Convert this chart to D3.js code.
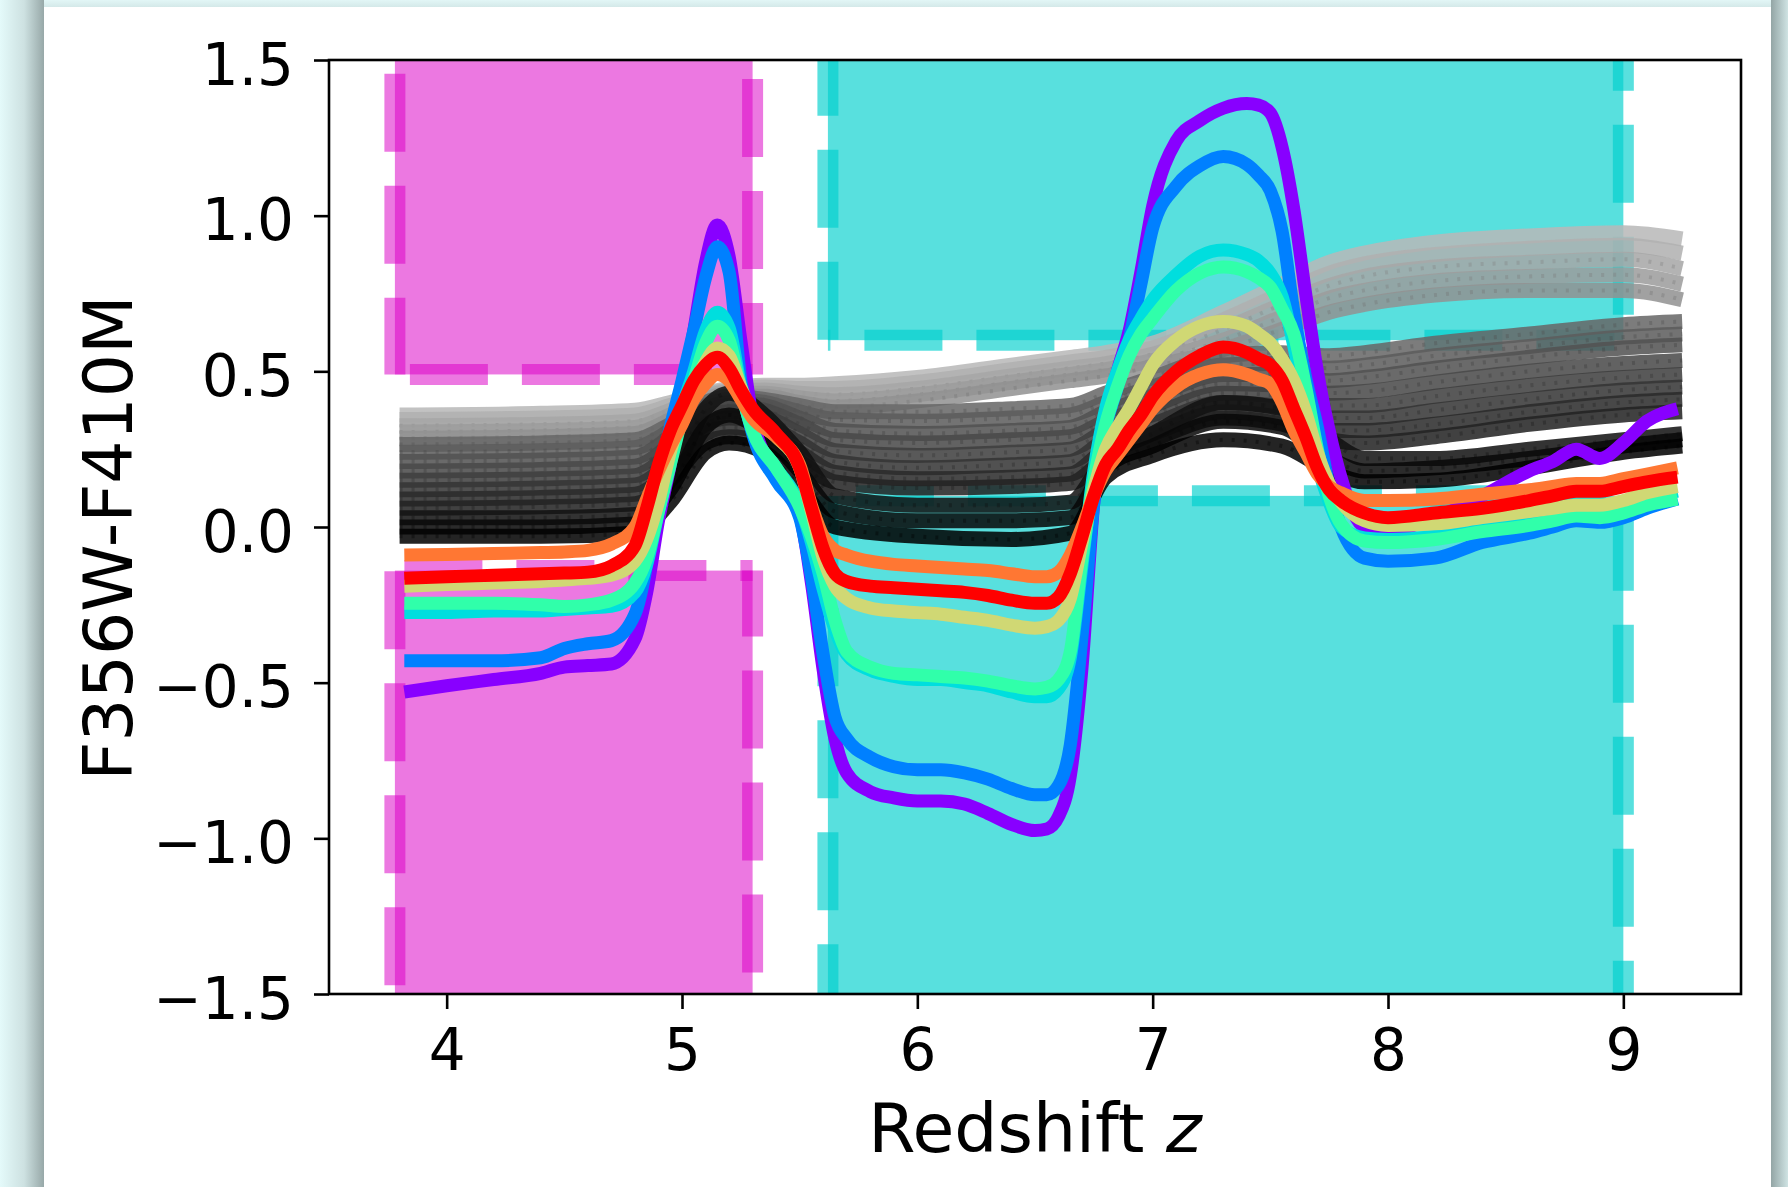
<!DOCTYPE html>
<html><head><meta charset="utf-8">
<script src="https://cdn.jsdelivr.net/npm/d3@7"></script>
<style>body{margin:0;background:#e3f9f9;} svg{display:block;} text{font-family:"DejaVu Sans";}</style>
</head><body>
<svg id="c" width="1788" height="1187"></svg>
<script>
// ---------------- data ----------------
const xTicks = [4, 5, 6, 7, 8, 9];
const xTickLabels = ["4", "5", "6", "7", "8", "9"];
const yTicks = [-1.5, -1.0, -0.5, 0.0, 0.5, 1.0, 1.5];
const yTickLabels = ["\u22121.5", "\u22121.0", "\u22120.5", "0.0", "0.5", "1.0", "1.5"];

// shaded selection regions [x0,x1] and [y0,y1]
const magentaX = [3.78, 5.30];
const magentaTopY = [0.49, 1.6];
const magentaBotY = [-1.6, -0.14];
const cyanX = [5.62, 9.0];
const cyanTopY = [0.6, 1.6];
const cyanBotY = [-1.6, 0.1];

// colored model tracks
const zColor = [3.82,4.0,4.2,4.4,4.5,4.6,4.7,4.8,4.85,4.9,
  4.95,5.0,5.05,5.1,5.15,5.2,5.25,5.3,5.4,5.5,
  5.55,5.6,5.65,5.7,5.8,5.9,6.0,6.1,6.2,6.3,
  6.4,6.5,6.55,6.6,6.65,6.7,6.75,6.8,6.85,6.9,
  6.95,7.0,7.1,7.2,7.3,7.4,7.45,7.5,7.55,7.6,
  7.65,7.7,7.75,7.8,7.9,8.0,8.2,8.4,8.6,8.7,
  8.8,8.9,9.0,9.1,9.23];
const purple = [-0.53,-0.51,-0.49,-0.47,-0.45,-0.445,-0.44,-0.36,-0.21,0.02,
  0.2,0.42,0.63,0.85,0.97,0.87,0.6,0.35,0.17,0.04,
  -0.18,-0.46,-0.68,-0.79,-0.85,-0.87,-0.88,-0.88,-0.89,-0.92,
  -0.955,-0.975,-0.97,-0.93,-0.8,-0.45,0.08,0.34,0.5,0.63,
  0.82,1.03,1.24,1.305,1.345,1.36,1.355,1.33,1.22,1.02,
  0.75,0.5,0.31,0.16,0.0,-0.01,0.03,0.1,0.18,0.21,
  0.25,0.22,0.27,0.34,0.38];
const blue = [-0.43,-0.43,-0.43,-0.42,-0.39,-0.375,-0.365,-0.28,-0.12,0.15,
  0.32,0.47,0.63,0.8,0.9,0.82,0.47,0.3,0.15,0.03,
  -0.16,-0.41,-0.61,-0.68,-0.74,-0.77,-0.78,-0.78,-0.79,-0.81,
  -0.84,-0.86,-0.86,-0.83,-0.7,-0.35,0.08,0.32,0.45,0.6,
  0.78,0.96,1.095,1.16,1.19,1.165,1.13,1.08,0.95,0.69,
  0.48,0.32,0.13,0.0,-0.1,-0.11,-0.1,-0.05,-0.02,0.0,
  0.02,0.015,0.03,0.06,0.09];
const cyan = [-0.275,-0.275,-0.27,-0.27,-0.265,-0.26,-0.255,-0.21,-0.12,0.05,
  0.22,0.38,0.5,0.63,0.69,0.64,0.45,0.31,0.19,0.07,
  -0.05,-0.2,-0.33,-0.41,-0.46,-0.48,-0.49,-0.49,-0.5,-0.51,
  -0.53,-0.545,-0.545,-0.52,-0.42,-0.12,0.18,0.38,0.5,0.6,
  0.67,0.73,0.81,0.87,0.89,0.875,0.855,0.815,0.74,0.58,
  0.38,0.2,0.08,0.0,-0.035,-0.04,-0.03,-0.005,0.02,0.035,
  0.05,0.045,0.06,0.09,0.115];
const green = [-0.245,-0.245,-0.245,-0.25,-0.255,-0.25,-0.235,-0.18,-0.1,0.05,
  0.2,0.35,0.47,0.59,0.645,0.6,0.44,0.31,0.19,0.065,
  -0.03,-0.15,-0.3,-0.4,-0.45,-0.47,-0.475,-0.48,-0.485,-0.495,
  -0.51,-0.52,-0.515,-0.49,-0.4,-0.1,0.15,0.33,0.45,0.55,
  0.62,0.67,0.76,0.815,0.835,0.82,0.8,0.77,0.7,0.62,
  0.45,0.25,0.1,0.01,-0.045,-0.05,-0.04,-0.015,0.005,0.02,
  0.035,0.03,0.045,0.07,0.09];
const yellow = [-0.19,-0.185,-0.18,-0.175,-0.17,-0.165,-0.155,-0.11,-0.04,0.08,
  0.24,0.36,0.45,0.53,0.575,0.55,0.45,0.36,0.29,0.19,
  0.05,-0.1,-0.19,-0.23,-0.26,-0.27,-0.275,-0.28,-0.29,-0.3,
  -0.315,-0.325,-0.32,-0.3,-0.23,-0.05,0.12,0.25,0.32,0.38,
  0.45,0.52,0.6,0.645,0.66,0.645,0.62,0.59,0.54,0.47,
  0.37,0.24,0.14,0.08,0.02,0.005,0.01,0.03,0.05,0.06,
  0.07,0.07,0.085,0.11,0.13];
const orange = [-0.09,-0.088,-0.085,-0.082,-0.08,-0.075,-0.055,0.0,0.09,0.18,
  0.26,0.33,0.41,0.46,0.49,0.47,0.41,0.35,0.29,0.2,
  0.07,-0.03,-0.075,-0.09,-0.11,-0.12,-0.125,-0.13,-0.135,-0.14,
  -0.15,-0.16,-0.16,-0.145,-0.09,0.0,0.1,0.18,0.23,0.28,
  0.33,0.38,0.45,0.49,0.505,0.49,0.475,0.46,0.4,0.31,
  0.24,0.17,0.13,0.11,0.085,0.085,0.09,0.105,0.12,0.13,
  0.14,0.14,0.155,0.17,0.19];
const red = [-0.165,-0.16,-0.155,-0.15,-0.148,-0.145,-0.125,-0.06,0.06,0.2,
  0.31,0.39,0.47,0.52,0.545,0.51,0.44,0.38,0.3,0.19,
  0.06,-0.07,-0.15,-0.175,-0.19,-0.195,-0.2,-0.205,-0.21,-0.22,
  -0.235,-0.245,-0.245,-0.225,-0.15,-0.03,0.1,0.2,0.25,0.31,
  0.36,0.42,0.5,0.55,0.578,0.56,0.54,0.52,0.47,0.38,
  0.29,0.19,0.12,0.085,0.045,0.03,0.045,0.06,0.085,0.1,
  0.115,0.115,0.13,0.145,0.16];
const colorSeries = [purple, blue, cyan, green, yellow, orange, red];
const colorSeriesColors = ["#8800ff", "#0080ff", "#00dede", "#30ffaa", "#d0d874", "#ff7733", "#ff0000"];

// grey model family
const zGrey = [3.8,4.4,4.8,4.95,5.1,5.2,5.35,5.5,5.65,6.0,6.4,6.65,6.8,7.0,7.3,7.55,7.75,7.9,8.2,8.6,9.0,9.25];
const grey01 = [0.36,0.365,0.375,0.40,0.43,0.445,0.455,0.455,0.46,0.48,0.52,0.545,0.56,0.59,0.69,0.78,0.85,0.88,0.915,0.935,0.945,0.925];
const grey02 = [0.345,0.35,0.36,0.39,0.425,0.44,0.45,0.445,0.445,0.465,0.505,0.53,0.545,0.575,0.665,0.75,0.815,0.845,0.875,0.895,0.905,0.88];
const grey03 = [0.325,0.33,0.34,0.375,0.42,0.435,0.44,0.43,0.425,0.445,0.485,0.51,0.525,0.555,0.635,0.715,0.775,0.805,0.835,0.85,0.86,0.83];
const grey04 = [0.305,0.31,0.32,0.36,0.41,0.43,0.43,0.415,0.405,0.425,0.465,0.49,0.505,0.535,0.60,0.675,0.735,0.76,0.79,0.805,0.81,0.78];
const grey05 = [0.285,0.29,0.30,0.345,0.40,0.42,0.42,0.40,0.385,0.405,0.445,0.47,0.485,0.515,0.57,0.635,0.69,0.715,0.745,0.76,0.76,0.73];
const grey06 = [0.265,0.27,0.28,0.33,0.40,0.42,0.41,0.39,0.37,0.37,0.38,0.39,0.43,0.48,0.55,0.56,0.55,0.56,0.59,0.62,0.65,0.66];
const grey07 = [0.24,0.245,0.255,0.31,0.39,0.41,0.40,0.37,0.345,0.34,0.35,0.36,0.40,0.45,0.52,0.525,0.51,0.52,0.55,0.58,0.61,0.62];
const grey08 = [0.21,0.215,0.225,0.29,0.38,0.40,0.39,0.35,0.31,0.30,0.31,0.32,0.37,0.42,0.49,0.49,0.47,0.48,0.51,0.545,0.575,0.585];
const grey09 = [0.18,0.185,0.195,0.265,0.37,0.39,0.375,0.33,0.28,0.27,0.28,0.29,0.34,0.39,0.46,0.455,0.43,0.435,0.465,0.50,0.525,0.535];
const grey10 = [0.15,0.155,0.165,0.24,0.35,0.37,0.355,0.30,0.245,0.23,0.24,0.25,0.31,0.36,0.43,0.42,0.39,0.39,0.42,0.455,0.48,0.49];
const grey11 = [0.12,0.125,0.135,0.21,0.33,0.35,0.33,0.27,0.21,0.19,0.20,0.21,0.28,0.33,0.40,0.385,0.35,0.35,0.375,0.41,0.44,0.45];
const grey12 = [0.09,0.095,0.105,0.18,0.30,0.32,0.30,0.24,0.175,0.155,0.16,0.17,0.25,0.30,0.37,0.35,0.31,0.31,0.33,0.37,0.40,0.41];
const grey13 = [0.06,0.065,0.075,0.15,0.27,0.29,0.27,0.21,0.145,0.125,0.13,0.14,0.22,0.28,0.35,0.33,0.28,0.27,0.29,0.33,0.36,0.37];
const grey14 = [0.03,0.03,0.04,0.15,0.38,0.43,0.36,0.24,0.10,0.07,0.07,0.08,0.22,0.30,0.40,0.38,0.28,0.22,0.22,0.25,0.28,0.30];
const grey15 = [0.0,0.0,0.01,0.12,0.32,0.36,0.30,0.18,0.05,0.02,0.02,0.03,0.19,0.26,0.34,0.32,0.22,0.18,0.19,0.22,0.26,0.28];
const grey16 = [-0.03,-0.03,-0.02,0.08,0.24,0.27,0.24,0.13,0.0,-0.03,-0.04,-0.02,0.16,0.23,0.28,0.26,0.18,0.145,0.15,0.19,0.24,0.26];
const greySeries = [grey01,grey02,grey03,grey04,grey05,grey06,grey07,grey08,grey09,grey10,grey11,grey12,grey13,grey14,grey15,grey16];
const greyShades = ["#b8b8b8","#b0b0b0","#a6a6a6","#9c9c9c","#929292","#666666","#5c5c5c","#525252","#484848","#3e3e3e","#343434","#2a2a2a","#222222","#111111","#080808","#000000"];

// ---------------- drawing ----------------
const W = 1788, H = 1187;
const L = 329, R = 1741, T = 60, B = 994;
const svg = d3.select("#c");
const defs = svg.append("defs");

function grad(id, x1, y1, x2, y2, stops) {
  const g = defs.append("linearGradient").attr("id", id)
    .attr("x1", x1).attr("y1", y1).attr("x2", x2).attr("y2", y2);
  stops.forEach(s => g.append("stop").attr("offset", s[0]).attr("stop-color", s[1]));
}
grad("gl", 0, 0, 1, 0, [[0, "#e4fafa"], [0.55, "#cde1e1"], [1, "#97a8a8"]]);
grad("gr", 0, 0, 1, 0, [[0, "#93a5a5"], [1, "#cfe3e3"]]);
grad("gt", 0, 0, 0, 1, [[0, "#e2f6f6"], [1, "#d2e7e7"]]);

svg.append("rect").attr("width", W).attr("height", H).attr("fill", "#e3f9f9");
svg.append("rect").attr("x", 0).attr("y", 0).attr("width", 44).attr("height", H).attr("fill", "url(#gl)");
svg.append("rect").attr("x", 1771).attr("y", 0).attr("width", 17).attr("height", H).attr("fill", "url(#gr)");
svg.append("rect").attr("x", 44).attr("y", 0).attr("width", 1727).attr("height", 8).attr("fill", "url(#gt)");
svg.append("rect").attr("x", 44).attr("y", 7).attr("width", 1727).attr("height", H).attr("fill", "#ffffff");

defs.append("clipPath").attr("id", "clip").append("rect")
  .attr("x", L).attr("y", T).attr("width", R - L).attr("height", B - T);

const x = d3.scaleLinear().domain([3.5, 9.5]).range([L, R]);
const y = d3.scaleLinear().domain([-1.5, 1.5]).range([B, T]);

const plot = svg.append("g").attr("clip-path", "url(#clip)");

// shaded regions
function region(xr, yr, color, alpha, open) {
  const g = plot.append("g");
  g.append("rect")
    .attr("x", x(xr[0])).attr("width", x(xr[1]) - x(xr[0]))
    .attr("y", y(yr[1])).attr("height", y(yr[0]) - y(yr[1]))
    .attr("fill", color).attr("fill-opacity", alpha);
  const yIn = open === "top" ? yr[0] : yr[1];
  const yOut = open === "top" ? yr[1] : yr[0];
  const edges = [
    [[xr[0], yOut], [xr[0], yIn]],
    [[xr[0], yIn], [xr[1], yIn]],
    [[xr[1], yIn], [xr[1], yOut]]
  ];
  return {g, edges};
}
function dashEdges(reg, color, alpha, offsets) {
  reg.edges.forEach((e, i) => {
    reg.g.append("line")
      .attr("x1", x(e[0][0])).attr("y1", y(e[0][1]))
      .attr("x2", x(e[1][0])).attr("y2", y(e[1][1]))
      .attr("stroke", color).attr("stroke-opacity", alpha)
      .attr("stroke-width", 21).attr("stroke-dasharray", "78 34")
      .attr("stroke-dashoffset", offsets[i]);
  });
}
const MAG = "#dc00c6", MAGA = 0.53;
const CYA = "#00d0cd", CYAA = 0.655;

const mt = region(magentaX, magentaTopY, MAG, MAGA, "top");
const mb = region(magentaX, magentaBotY, MAG, MAGA, "bot");
const ct = region(cyanX, cyanTopY, CYA, CYAA, "top");
const cb = region(cyanX, cyanBotY, CYA, CYAA, "bot");

// dash phases (left edge, inner edge, right edge)
dashEdges(mt, MAG, MAGA, [67, 97, 6.5]);
dashEdges(mb, MAG, MAGA, [72, 102.5, 12]);
dashEdges(ct, CYA, CYAA, [103, 75.5, 86.5]);
dashEdges(cb, CYA, CYAA, [109, 84, 95]);

// grey family
const lineG = d3.line().x(d => x(d[0])).y(d => y(d[1])).curve(d3.curveMonotoneX);
greySeries.forEach((s, i) => {
  const pts = d3.zip(zGrey, s);
  plot.append("path").attr("d", lineG(pts)).attr("fill", "none")
    .attr("stroke", greyShades[i]).attr("stroke-opacity", 0.86)
    .attr("stroke-width", 15).attr("stroke-linejoin", "round");
  if (i >= 2) {
    plot.append("path").attr("d", lineG(pts)).attr("fill", "none")
      .attr("stroke", d3.color(greyShades[i]).darker(0.7)).attr("stroke-opacity", 0.35)
      .attr("stroke-width", 4).attr("stroke-dasharray", "3 9");
  }
});

// colored tracks
colorSeries.forEach((s, i) => {
  const pts = d3.zip(zColor, s);
  plot.append("path").attr("d", lineG(pts)).attr("fill", "none")
    .attr("stroke", colorSeriesColors[i]).attr("stroke-width", 13)
    .attr("stroke-linejoin", "round");
});

// axes
const FS = 58;
const xa = svg.append("g").attr("transform", `translate(0,${B})`)
  .call(d3.axisBottom(x).tickValues(xTicks).tickFormat((d, i) => xTickLabels[i]).tickSize(15).tickSizeOuter(0));
const ya = svg.append("g").attr("transform", `translate(${L},0)`)
  .call(d3.axisLeft(y).tickValues(yTicks).tickFormat((d, i) => yTickLabels[i]).tickSize(15).tickSizeOuter(0));
[xa, ya].forEach(a => {
  a.select(".domain").remove();
  a.selectAll("line").attr("stroke", "#000").attr("stroke-width", 2.6);
  a.selectAll("text").attr("fill", "#000").attr("font-size", FS).attr("font-family", "DejaVu Sans");
});
xa.selectAll("text").attr("y", 76).attr("dy", null);
ya.selectAll("text").attr("x", -35).attr("dy", null).attr("y", 24);

svg.append("rect").attr("x", L).attr("y", T).attr("width", R - L).attr("height", B - T)
  .attr("fill", "none").attr("stroke", "#000").attr("stroke-width", 2.6);

// labels
const xl = svg.append("text").attr("x", (L + R) / 2).attr("y", 1152)
  .attr("text-anchor", "middle").attr("font-size", 68).attr("fill", "#000");
xl.append("tspan").text("Redshift ");
xl.append("tspan").attr("font-style", "italic").text("z");

svg.append("text").attr("transform", "translate(132,538) rotate(-90)")
  .attr("text-anchor", "middle").attr("font-size", 68).attr("fill", "#000")
  .text("F356W-F410M");
</script>
</body></html>
